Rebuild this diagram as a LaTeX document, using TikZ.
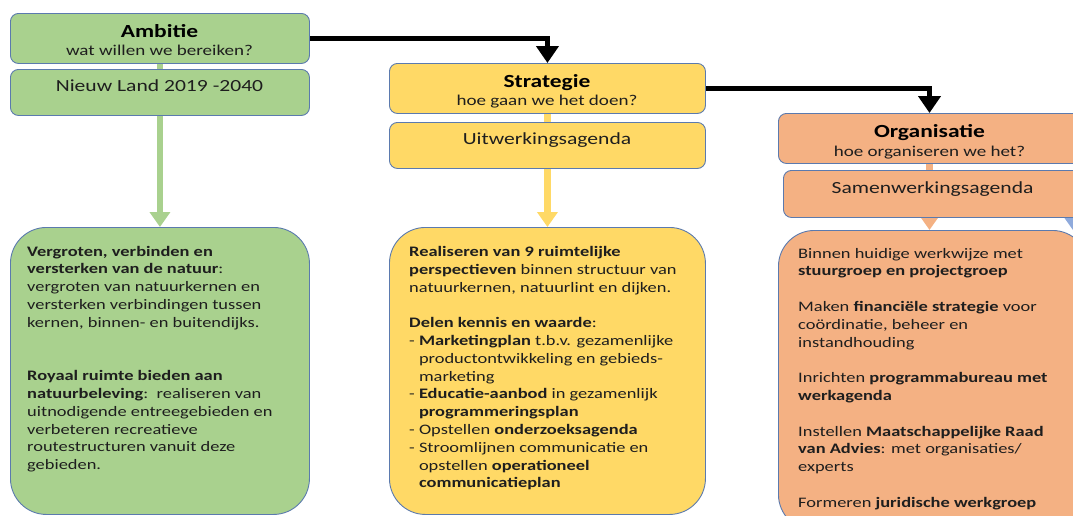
\documentclass[tikz,border=0pt]{standalone}
\usepackage{fontspec}
\setmainfont{Carlito}[FakeStretch=1.27]
\usetikzlibrary{arrows.meta}
\pgfdeclarelayer{bg}
\pgfsetlayers{bg,main}
\definecolor{grn}{HTML}{A9D18E}
\definecolor{ylw}{HTML}{FFD966}
\definecolor{org}{HTML}{F4B183}
\definecolor{blu}{HTML}{8FAADC}
\definecolor{edge}{HTML}{5B7AAE}
\definecolor{txt}{HTML}{1E1E1E}
\newcommand{\titlef}{\fontsize{18.5}{22}\selectfont\bfseries}
\newcommand{\subf}{\fontsize{15}{18}\selectfont}
\newcommand{\agendaf}{\fontsize{17}{20}\selectfont}
\newcommand{\bodyf}{\fontsize{14.5}{17.8}\selectfont}
\begin{document}
\begin{tikzpicture}[x=1pt,y=-1pt,
  hdrbox/.style={draw=edge, line width=0.9pt, rounded corners=8pt, inner sep=0pt, anchor=north west},
  bodybox/.style={draw=edge, line width=0.9pt, rounded corners=36pt, inner sep=0pt, anchor=north west},
  flow/.style={line width=6.5pt, -{Triangle[width=20pt,length=15pt]}},
  link/.style={line width=5.5pt, black, -{Triangle[width=22pt,length=17pt]}},
  ttl/.style={anchor=base, inner sep=0pt, text=black, font=\titlef},
  sub/.style={anchor=base, inner sep=0pt, text=txt, font=\subf},
  agd/.style={anchor=base, inner sep=0pt, text=txt, font=\agendaf},
  bodytxt/.style={anchor=base west, inner sep=0pt, text=txt}]
\useasboundingbox (0,0) rectangle (1073,515);
\clip (0,0) rectangle (1073,515);

% header boxes
\node[hdrbox, fill=grn, minimum width=299pt, minimum height=50pt] (amb) at (10,13) {};
\node[hdrbox, fill=grn, minimum width=299pt, minimum height=46pt] (ambsub) at (10,69) {};
\node[hdrbox, fill=ylw, minimum width=316pt, minimum height=50pt] (str) at (389,63) {};
\node[hdrbox, fill=ylw, minimum width=316pt, minimum height=46pt] (strsub) at (389,122) {};
\node[hdrbox, fill=org, minimum width=303pt, minimum height=50pt] (orgh) at (778,113) {};
\node[hdrbox, fill=org, minimum width=299pt, minimum height=47pt] (orgsub) at (783,170) {};

% body boxes
\node[bodybox, fill=grn, minimum width=299pt, minimum height=287pt] (gbody) at (10,227) {};
\node[bodybox, fill=ylw, minimum width=316pt, minimum height=287pt] (ybody) at (389,227) {};
\node[bodybox, fill=org, minimum width=310pt, minimum height=300pt] (obody) at (778,230) {};

% header texts
\node[ttl] (ambt) at (159.5,37) {Ambitie};
\node[sub] (ambs) at (159.5,55) {wat willen we bereiken?};
\node[agd] (ambst) at (159.5,91) {Nieuw Land 2019 -2040};
\node[ttl] (strt) at (547,87) {Strategie};
\node[sub] (strs) at (547,105) {hoe gaan we het doen?};
\node[agd] (strst) at (547,144) {Uitwerkingsagenda};
\node[ttl] (orgt) at (929.5,137) {Organisatie};
\node[sub] (orgs) at (929.5,156) {hoe organiseren we het?};
\node[agd] (orgst) at (932.5,193) {Samenwerkingsagenda};

% body texts
\node[bodytxt] (gtxt) at (27,256) {\begin{minipage}[t]{300pt}\bodyf\raggedright
\textbf{Vergroten, verbinden en}\\
\textbf{versterken van de natuur}:\\
vergroten van natuurkernen en\\
versterken verbindingen tussen\\
kernen, binnen- en buitendijks.\\
\mbox{}\\
\mbox{}\\
\textbf{Royaal ruimte bieden aan}\\
\textbf{natuurbeleving}:\ \ realiseren van\\
uitnodigende entreegebieden en\\
verbeteren recreatieve\\
routestructuren vanuit deze\\
gebieden.
\end{minipage}};

\node[bodytxt] (ytxt) at (409,256.5) {\begin{minipage}[t]{310pt}\bodyf\raggedright
\textbf{Realiseren van 9 ruimtelijke}\\
\textbf{perspectieven} binnen structuur van\\
natuurkernen, natuurlint en dijken.\\
\mbox{}\\
\textbf{Delen kennis en waarde}:\\
- \textbf{Marketingplan} t.b.v. gezamenlijke\\
\phantom{- }productontwikkeling en gebieds-\\
\phantom{- }marketing\\
- \textbf{Educatie-aanbod} in gezamenlijk\\
\phantom{- }\textbf{programmeringsplan}\\
- Opstellen \textbf{onderzoeksagenda}\\
- Stroomlijnen communicatie en\\
\phantom{- }opstellen \textbf{operationeel}\\
\phantom{- }\textbf{communicatieplan}
\end{minipage}};

\node[bodytxt] (otxt) at (798,258) {\begin{minipage}[t]{300pt}\bodyf\raggedright
Binnen huidige werkwijze met\\
\textbf{stuurgroep en projectgroep}\\
\mbox{}\\
Maken \textbf{financiële strategie} voor\\
coördinatie, beheer en\\
instandhouding\\
\mbox{}\\
Inrichten \textbf{programmabureau met}\\
\textbf{werkagenda}\\
\mbox{}\\
Instellen \textbf{Maatschappelijke Raad}\\
\textbf{van Advies}: met organisaties/\\
experts\\
\mbox{}\\
Formeren \textbf{juridische werkgroep}
\end{minipage}};

\coordinate (bluesrc) at (1075,195);
\coordinate (bluetip) at (1075,233);

\begin{pgfonlayer}{bg}
  \clip (0,0) rectangle (1073,515);
  \draw[flow, grn] (amb.south) -- (gbody.north);
  \draw[flow, ylw] (str.south) -- (ybody.north);
  \draw[flow, org] (orgh.south -| orgt) -- (obody.north -| orgt);
  \draw[flow, blu] (bluesrc) -- (bluetip);
  \draw[link] (amb.east) -| (str.north);
  \draw[link] (str.east) -| (orgh.north -| orgt);
\end{pgfonlayer}
\end{tikzpicture}
\end{document}
